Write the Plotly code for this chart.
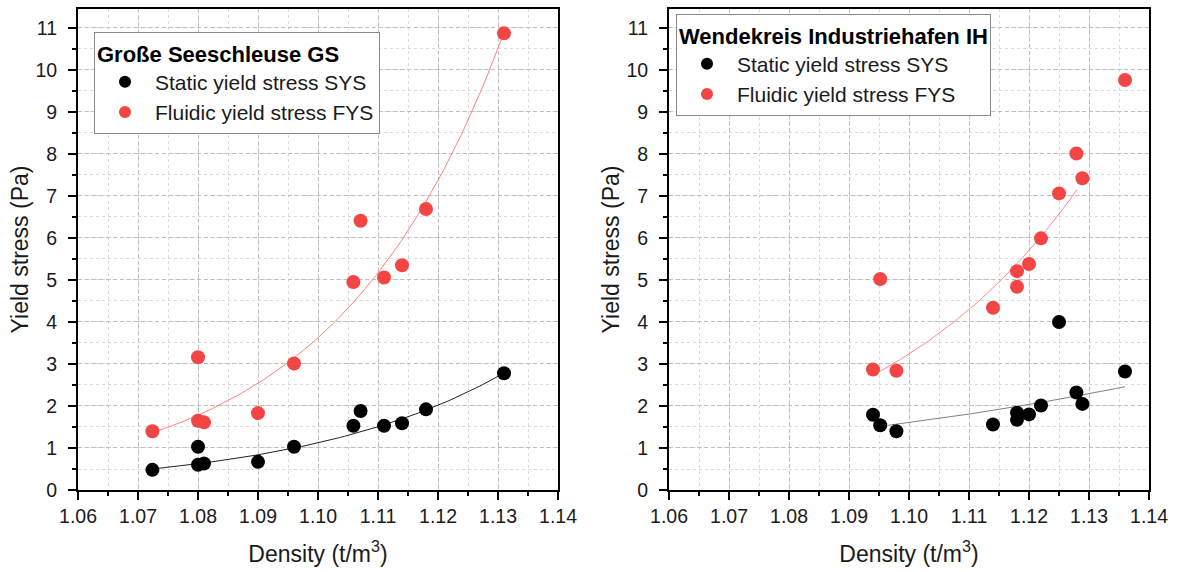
import numpy as np
import plotly.graph_objects as go

# ---------------- data ----------------
gs_density_sys = [1.0724, 1.0800, 1.0800, 1.0810, 1.0900, 1.0960, 1.1059, 1.1071, 1.1110, 1.1140, 1.1180, 1.1310]
gs_sys = [0.48, 1.03, 0.60, 0.63, 0.67, 1.03, 1.53, 1.88, 1.53, 1.59, 1.92, 2.78]
gs_density_fys = [1.0724, 1.0800, 1.0800, 1.0810, 1.0900, 1.0960, 1.1059, 1.1071, 1.1110, 1.1140, 1.1180, 1.1310]
gs_fys = [1.40, 3.16, 1.65, 1.61, 1.83, 3.01, 4.95, 6.41, 5.06, 5.35, 6.69, 10.87]

ih_density_sys = [1.0940, 1.0952, 1.0979, 1.1140, 1.1180, 1.1180, 1.1200, 1.1220, 1.1250, 1.1279, 1.1289, 1.1360]
ih_sys = [1.79, 1.54, 1.40, 1.56, 1.84, 1.67, 1.80, 2.01, 4.00, 2.32, 2.05, 2.82]
ih_density_fys = [1.0940, 1.0952, 1.0979, 1.1140, 1.1180, 1.1180, 1.1200, 1.1220, 1.1250, 1.1279, 1.1289, 1.1360]
ih_fys = [2.87, 5.02, 2.84, 4.34, 5.21, 4.84, 5.38, 5.99, 7.06, 8.01, 7.42, 9.76]

# exponential fit curves y = a*exp(b*(x-x0)), parameters
gs_sys_fit = dict(x0=1.0724, x1=1.1310, a=0.50, b=29.3)
gs_fys_fit = dict(x0=1.0724, x1=1.1310, a=1.36, b=35.5)
ih_sys_fit = dict(x0=1.0965, x1=1.1360, a=1.54, b=11.85)
ih_fys_fit = dict(x0=1.0945, x1=1.1280, a=2.77, b=28.3)

legend_titles = ["Große Seeschleuse GS", "Wendekreis Industriehafen IH"]
series_names = ["Static yield stress SYS", "Fluidic yield stress FYS"]
x_ticks = [1.06, 1.07, 1.08, 1.09, 1.10, 1.11, 1.12, 1.13, 1.14]
y_ticks = list(range(0, 12))

BLACK = "#000000"
RED = "#F44545"
FONT = "Liberation Sans, Arial, sans-serif"
TXT = "#1A1A1A"

W, H = 1177, 572


def fit_curve(p):
    xs = np.linspace(p["x0"], p["x1"], 100)
    return xs, p["a"] * np.exp(p["b"] * (xs - p["x0"]))


fig = go.Figure()

panels = [
    ("x", "y", "legend", gs_density_sys, gs_sys, gs_density_fys, gs_fys, gs_sys_fit, gs_fys_fit, "#222222", "#FF8080"),
    ("x2", "y2", "legend2", ih_density_sys, ih_sys, ih_density_fys, ih_fys, ih_sys_fit, ih_fys_fit, "#808080", "#FF8A8A"),
]

for xa, ya, lg, dx_s, s, dx_f, f, pfs, pff, cs, cf in panels:
    xs, ys = fit_curve(pfs)
    fig.add_trace(go.Scatter(x=xs, y=ys, mode="lines", line=dict(color=cs, width=1),
                             xaxis=xa, yaxis=ya, showlegend=False, hoverinfo="skip"))
    xs, ys = fit_curve(pff)
    fig.add_trace(go.Scatter(x=xs, y=ys, mode="lines", line=dict(color=cf, width=1),
                             xaxis=xa, yaxis=ya, showlegend=False, hoverinfo="skip"))
    fig.add_trace(go.Scatter(x=dx_s, y=s, mode="markers", name=series_names[0],
                             marker=dict(color=BLACK, size=14), xaxis=xa, yaxis=ya, legend=lg))
    fig.add_trace(go.Scatter(x=dx_f, y=f, mode="markers", name=series_names[1],
                             marker=dict(color=RED, size=14), xaxis=xa, yaxis=ya, legend=lg))

major_grid = dict(showgrid=True, gridcolor="#BEBEBE", griddash="4px,3px", gridwidth=1)
minor_grid = dict(showgrid=True, gridcolor="#DADADA", griddash="3px,3px", gridwidth=1)
common = dict(ticks="outside", ticklen=8, tickwidth=2, tickcolor="black",
              showline=True, linecolor="black", linewidth=2, mirror=True, zeroline=False,
              tickfont=dict(family=FONT, size=19.5, color=TXT), automargin=False)


def xaxis(dom, anchor):
    return dict(domain=dom, anchor=anchor, range=[1.06, 1.14], tickvals=x_ticks, tickformat=".2f",
                minor=dict(dtick=0.005, tick0=1.06, ticks="outside", ticklen=4, tickwidth=2,
                           tickcolor="black", **minor_grid),
                title=dict(text="Density (t/m<sup>3</sup>)", font=dict(family=FONT, size=23, color=TXT), standoff=19),
                **common, **major_grid)


def yaxis(anchor):
    return dict(domain=[(H - 490) / H, (H - 9) / H], anchor=anchor, range=[0, 11.45], tickvals=y_ticks,
                minor=dict(dtick=0.5, tick0=0, ticks="outside", ticklen=4, tickwidth=2,
                           tickcolor="black", **minor_grid),
                ticklabelstandoff=7,
                title=dict(text="Yield stress (Pa)", font=dict(family=FONT, size=23, color=TXT), standoff=0),
                **common, **major_grid)


legend_common = dict(bgcolor="white", bordercolor="#8A8A8A", borderwidth=1,
                     font=dict(family=FONT, size=21, color=TXT),
                     xanchor="left", yanchor="top", tracegroupgap=0, itemsizing="constant",
                     itemwidth=50)

fig.update_layout(
    width=W, height=H, margin=dict(l=0, r=0, t=0, b=0),
    paper_bgcolor="white", plot_bgcolor="white", showlegend=True,
    xaxis=xaxis([78 / W, 558 / W], "y"),
    yaxis=yaxis("x"),
    xaxis2=xaxis([669 / W, 1149 / W], "y2"),
    yaxis2=yaxis("x2"),
    legend=dict(x=94 / W, y=1 - 32 / H,
                title=dict(text="<b>" + legend_titles[0] + "</b>", font=dict(family=FONT, size=22, color="#000")),
                **legend_common),
    legend2=dict(x=676 / W, y=1 - 14 / H,
                 title=dict(text="<b>" + legend_titles[1] + "</b>", font=dict(family=FONT, size=22, color="#000")),
                 **legend_common),
)

fig.write_html("out.html")
